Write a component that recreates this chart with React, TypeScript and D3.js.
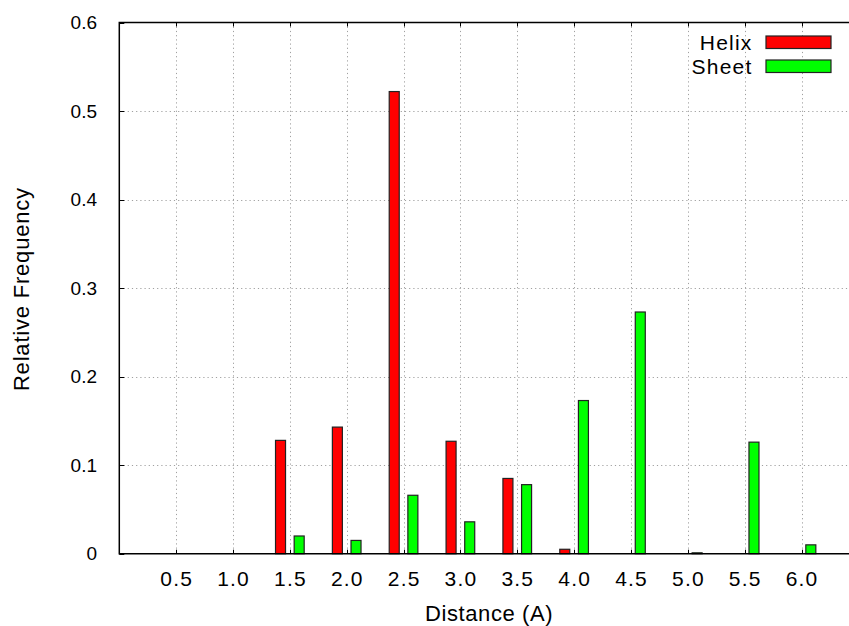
import React, { useEffect, useRef } from 'react';
import * as d3 from 'd3';

// distance bins (A) and relative frequencies
const distances = [0.5, 1.0, 1.5, 2.0, 2.5, 3.0, 3.5, 4.0, 4.5, 5.0, 5.5, 6.0];
const helix = [0, 0, 0.128, 0.143, 0.522, 0.127, 0.085, 0.005, 0, 0, 0, 0];
const sheet = [0, 0, 0.020, 0.015, 0.066, 0.036, 0.078, 0.173, 0.273, 0.001, 0.126, 0.010];
const yTicks = [0, 0.1, 0.2, 0.3, 0.4, 0.5, 0.6];
const seriesNames = ['Helix', 'Sheet'];
const seriesColors = ['#ff0000', '#00ff00'];

const W = 849, H = 626;
const FONT = '"Liberation Sans", Arial, Helvetica, sans-serif';

export default function App() {
    const svgRef = useRef<SVGSVGElement>(null);

    useEffect(() => {
        const svg = d3.select(svgRef.current);
        svg.selectAll('*').remove();

        const left = 119.3, top = 22.5, bottom = 553.7;
        const x = d3.scaleLinear().domain([0, 6.5]).range([left, left + 6.5 * 113.7]);
        const y = d3.scaleLinear().domain([0, 0.6]).range([bottom, top]);
        const right = x(6.5);

        // grid
        const grid = svg.append('g')
            .attr('stroke', '#a0a0a0')
            .attr('stroke-width', 1)
            .attr('stroke-dasharray', '1.2,3');
        grid.selectAll('line.v')
            .data(distances)
            .join('line')
            .attr('x1', d => Math.round(x(d)) + 0.5)
            .attr('x2', d => Math.round(x(d)) + 0.5)
            .attr('y1', top)
            .attr('y2', bottom);
        grid.selectAll('line.h')
            .data(yTicks.slice(1, -1))
            .join('line')
            .attr('class', 'h')
            .attr('x1', left)
            .attr('x2', right)
            .attr('y1', d => Math.round(y(d)) + 0.5)
            .attr('y2', d => Math.round(y(d)) + 0.5);

        // bars
        const offset = 0.082, bw = 0.088;
        [helix, sheet].forEach((vals, s) => {
            const pts = distances.map((d, i) => ({ d, v: vals[i] })).filter(p => p.v > 0);
            svg.append('g')
                .selectAll('rect')
                .data(pts)
                .join('rect')
                .attr('x', p => x(p.d + (s === 0 ? -offset : offset) - bw / 2))
                .attr('width', x(bw) - x(0))
                .attr('y', p => y(p.v))
                .attr('height', p => y(0) - y(p.v))
                .attr('fill', seriesColors[s])
                .attr('stroke', '#222')
                .attr('stroke-width', 1.2);
        });

        // ticks
        const ticks = svg.append('g').attr('stroke', '#000').attr('stroke-width', 1);
        distances.forEach(d => {
            const xx = Math.round(x(d)) + 0.5;
            ticks.append('line').attr('x1', xx).attr('x2', xx).attr('y1', bottom).attr('y2', bottom - 4);
            ticks.append('line').attr('x1', xx).attr('x2', xx).attr('y1', top).attr('y2', top + 4);
        });
        yTicks.forEach(t => {
            const yy = Math.round(y(t)) + 0.5;
            ticks.append('line').attr('x1', left).attr('x2', left + 5).attr('y1', yy).attr('y2', yy);
        });

        // frame
        svg.append('path')
            .attr('d', `M${right},${top}H${left}V${bottom}H${right}`)
            .attr('fill', 'none')
            .attr('stroke', '#000')
            .attr('stroke-width', 1.5);

        // tick labels
        svg.append('g')
            .selectAll('text')
            .data(distances)
            .join('text')
            .attr('x', d => x(d) + 0.6)
            .attr('y', 586)
            .attr('text-anchor', 'middle')
            .attr('font-family', FONT)
            .attr('font-size', 21)
            .attr('letter-spacing', 1.2)
            .text(d => d.toFixed(1));
        svg.append('g')
            .selectAll('text')
            .data(yTicks)
            .join('text')
            .attr('x', 97)
            .attr('y', d => y(d) + 6.6)
            .attr('text-anchor', 'end')
            .attr('font-family', FONT)
            .attr('font-size', 19)
            .text(d => d === 0 ? '0' : d.toFixed(1));

        // axis titles
        svg.append('text')
            .attr('x', (left + right) / 2 + 0.3)
            .attr('y', 621)
            .attr('text-anchor', 'middle')
            .attr('font-family', FONT)
            .attr('font-size', 22)
            .attr('letter-spacing', 0.6)
            .text('Distance (A)');
        svg.append('text')
            .attr('transform', `translate(29,${(top + bottom) / 2 + 1}) rotate(-90)`)
            .attr('text-anchor', 'middle')
            .attr('font-family', FONT)
            .attr('font-size', 22)
            .attr('letter-spacing', 0.8)
            .text('Relative Frequency');

        // legend
        const legend = svg.append('g');
        seriesNames.forEach((name, i) => {
            const yy = 36 + i * 24;
            legend.append('text')
                .attr('x', 752.5)
                .attr('y', yy + 13.6)
                .attr('text-anchor', 'end')
                .attr('font-family', FONT)
                .attr('font-size', 21)
                .attr('letter-spacing', 1.2)
                .text(name);
            legend.append('rect')
                .attr('x', 766)
                .attr('y', yy)
                .attr('width', 65)
                .attr('height', 12.5)
                .attr('fill', seriesColors[i])
                .attr('stroke', '#222')
                .attr('stroke-width', 1.2);
        });
    }, []);

    return (
        <svg ref={svgRef} width={W} height={H}
            style={{ position: 'absolute', left: 0, top: 0, background: '#fff' }} />
    );
}
